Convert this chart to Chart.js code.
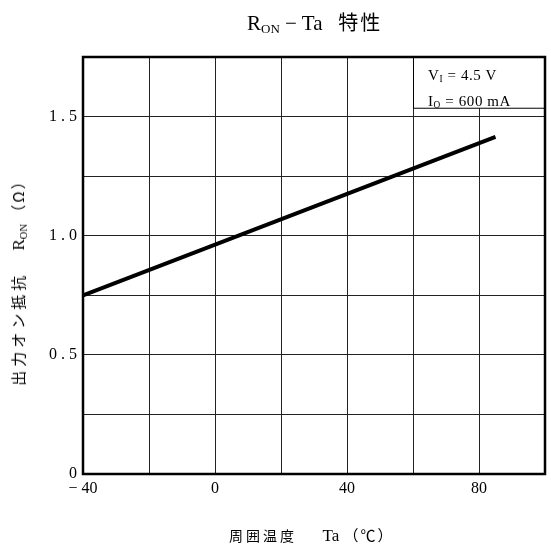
<!DOCTYPE html>
<html>
<head>
<meta charset="utf-8">
<script src="https://cdn.jsdelivr.net/npm/chart.js@4.4.1/dist/chart.umd.min.js"></script>
<style>
  html, body { margin: 0; padding: 0; background: #fff; }
  #wrap { position: relative; width: 551px; height: 549px; }
  canvas { position: absolute; left: 0; top: 0; }
  .lbl { position: absolute; font-family: "Liberation Serif", "DejaVu Serif", serif; color: #000; white-space: nowrap; }
  .jp { font-family: "Noto Sans CJK JP", sans-serif; }
  sub { font-size: 62%; vertical-align: -0.25em; }
</style>
</head>
<body>
<div id="wrap">
  <canvas id="chart" width="551" height="549"></canvas>
  <div class="lbl" id="title" style="left:247px; top:7px; font-size:21px;">R<sub>ON</sub> − Ta&nbsp;&nbsp;&nbsp;<span class="jp" style="font-size:20px; letter-spacing:2px;">特性</span></div>
  <div class="lbl" id="cond" style="left:428px; top:64px; font-size:15px; line-height:22px; letter-spacing:0.6px;">V<sub>I</sub> = 4.5 V<br>I<sub>O</sub> = 600 mA</div>
  <div class="lbl" id="xtitle" style="left:229px; top:524px; font-size:17px;"><span class="jp" style="font-size:14px; letter-spacing:3px;">周囲温度</span>&nbsp;&nbsp;&nbsp;&nbsp;&nbsp;&nbsp;Ta&nbsp;<span class="jp" style="font-size:15px; letter-spacing:2px;">（℃）</span></div>
  <div class="lbl" id="ytitle" style="left:18px; top:279px; font-size:17px; transform: translate(-50%, -50%) rotate(-90deg);"><span class="jp" style="font-size:15px; letter-spacing:4px;">出力オン抵抗</span>&nbsp;&nbsp;&nbsp;&nbsp;&nbsp;R<sub>ON</sub>&nbsp;<span class="jp" style="font-size:15px; letter-spacing:2px;">（Ω）</span></div>
</div>
<script>
const temps = [-40, 85];
const resistance = [0.75, 1.415];
const xTickLabels = [-40, 0, 40, 80];
const yTickLabels = [0, 0.5, 1.0, 1.5];

const frame = {
  id: 'frame',
  beforeDatasetsDraw(chart) {
    const { ctx, scales: { x, y } } = chart;
    // white box behind the condition text
    const l = x.getPixelForValue(60), r = x.getPixelForValue(100);
    const t = y.getPixelForValue(1.75), b = y.getPixelForValue(1.535);
    ctx.save();
    ctx.fillStyle = '#fff';
    ctx.fillRect(l, t, r - l, b - t);
    ctx.strokeStyle = '#000';
    ctx.lineWidth = 1;
    ctx.strokeRect(l + 0.5, t, r - l, b - t);
    ctx.restore();
  },
  afterDraw(chart) {
    const { ctx, chartArea: a } = chart;
    ctx.save();
    ctx.strokeStyle = '#000';
    ctx.lineWidth = 2.5;
    ctx.strokeRect(a.left, a.top, a.right - a.left, a.bottom - a.top);
    ctx.restore();
  }
};

new Chart(document.getElementById('chart'), {
  type: 'line',
  plugins: [frame],
  data: {
    datasets: [{
      data: temps.map((t, i) => ({ x: t, y: resistance[i] })),
      borderColor: '#000',
      borderWidth: 4,
      pointRadius: 0,
      fill: false,
    }]
  },
  options: {
    responsive: false,
    animation: false,
    layout: { padding: { left: 0, right: 6, top: 57, bottom: 40 } },
    plugins: {
      legend: { display: false },
      tooltip: { enabled: false },
      title: { display: false },
    },
    scales: {
      x: {
        type: 'linear',
        min: -40,
        max: 100,
        afterFit(scale) { scale.height = 35; },
        grid: { color: '#222', lineWidth: 1, tickLength: 0, drawTicks: false },
        border: { display: false },
        ticks: {
          stepSize: 20,
          padding: 5,
          color: '#000',
          maxRotation: 0,
          autoSkip: false,
          font: { family: 'Liberation Serif', size: 16 },
          callback: function (value) {
            if (!xTickLabels.includes(value)) return '';
            return value < 0 ? '− ' + Math.abs(value) : String(value);
          }
        }
      },
      y: {
        min: 0,
        max: 1.75,
        afterFit(scale) { scale.width = 83; },
        grid: { color: '#222', lineWidth: 1, tickLength: 0, drawTicks: false },
        border: { display: false },
        ticks: {
          stepSize: 0.25,
          padding: 6,
          color: '#000',
          autoSkip: false,
          font: { family: 'Liberation Serif', size: 16 },
          callback: function (value) {
            if (!yTickLabels.some(v => Math.abs(v - value) < 1e-6)) return '';
            return value === 0 ? '0' : value.toFixed(1).replace('.', ' . ');
          }
        }
      }
    }
  }
});
</script>
</body>
</html>
